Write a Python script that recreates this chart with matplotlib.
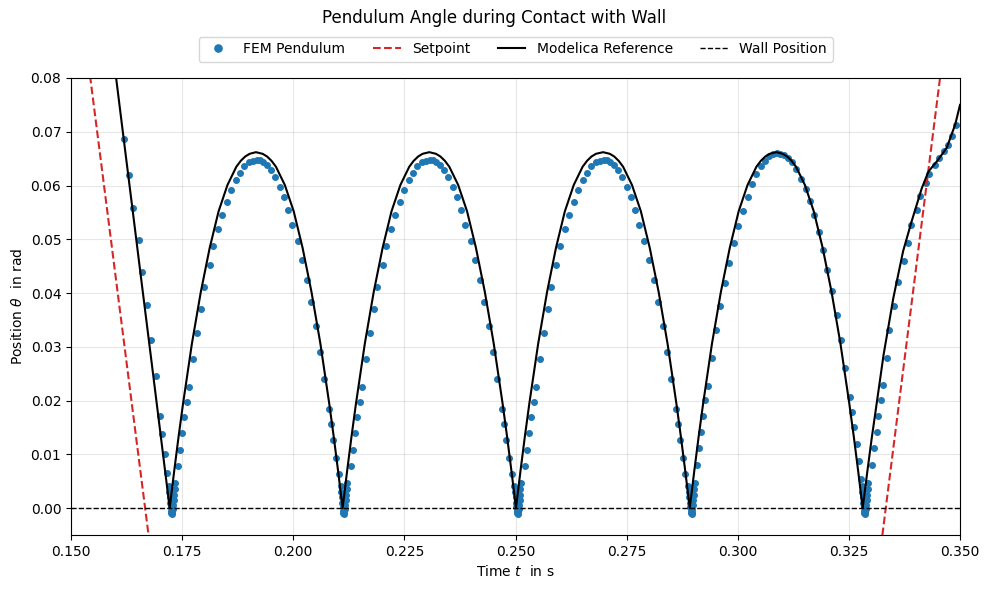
"""
Pendulum angle during contact with the wall: FEM samples vs Modelica reference.
"""

import matplotlib.pyplot as plt
import numpy as np

OUTPUT_FILE = "out.png"

# -- Modelica reference trajectory ---------------------------------------------
REF_T = [
    0.1560, 0.1580, 0.1600, 0.1620, 0.1640, 0.1660, 0.1680, 0.1700, 0.1722,
    0.1732, 0.1742, 0.1752, 0.1772, 0.1792, 0.1812, 0.1832, 0.1852, 0.1872, 0.1882, 0.1892,
    0.1902, 0.1916, 0.1931, 0.1941, 0.1951, 0.1961, 0.1981, 0.2001, 0.2021, 0.2041, 0.2061,
    0.2081, 0.2091, 0.2101, 0.2111,
    0.2121, 0.2131, 0.2141, 0.2161, 0.2181, 0.2201, 0.2221, 0.2241, 0.2261, 0.2271, 0.2281,
    0.2291, 0.2306, 0.2321, 0.2331, 0.2341, 0.2351, 0.2371, 0.2391, 0.2411, 0.2431, 0.2451,
    0.2471, 0.2481, 0.2491, 0.2501,
    0.2511, 0.2521, 0.2531, 0.2551, 0.2571, 0.2591, 0.2611, 0.2631, 0.2651, 0.2661, 0.2671,
    0.2681, 0.2697, 0.2712, 0.2722, 0.2732, 0.2742, 0.2762, 0.2782, 0.2802, 0.2822, 0.2842,
    0.2862, 0.2872, 0.2882, 0.2892,
    0.2902, 0.2912, 0.2922, 0.2942, 0.2962, 0.2982, 0.3002, 0.3022, 0.3042, 0.3052, 0.3062,
    0.3072, 0.3087, 0.3101, 0.3111, 0.3121, 0.3131, 0.3151, 0.3171, 0.3191, 0.3211, 0.3231,
    0.3251, 0.3261, 0.3271, 0.3281,
    0.3291, 0.3301, 0.3311, 0.3328, 0.3350, 0.3372, 0.3391, 0.3414, 0.3429, 0.3448, 0.3470,
    0.3489, 0.3500,
]
REF_THETA = [
    0.1080, 0.0945, 0.0810, 0.0677, 0.0545, 0.0412, 0.0280, 0.0147, 0.0000,
    0.0068, 0.0133, 0.0194, 0.0306, 0.0402, 0.0484, 0.0552, 0.0601, 0.0635, 0.0646, 0.0654,
    0.0659, 0.0662, 0.0659, 0.0654, 0.0646, 0.0635, 0.0601, 0.0552, 0.0484, 0.0402, 0.0306,
    0.0194, 0.0133, 0.0068, 0.0000,
    0.0068, 0.0133, 0.0194, 0.0306, 0.0402, 0.0484, 0.0552, 0.0601, 0.0635, 0.0646, 0.0654,
    0.0659, 0.0662, 0.0659, 0.0654, 0.0646, 0.0635, 0.0601, 0.0552, 0.0484, 0.0402, 0.0306,
    0.0194, 0.0133, 0.0068, 0.0000,
    0.0068, 0.0133, 0.0194, 0.0306, 0.0402, 0.0484, 0.0552, 0.0601, 0.0635, 0.0646, 0.0654,
    0.0659, 0.0662, 0.0659, 0.0654, 0.0646, 0.0635, 0.0601, 0.0552, 0.0484, 0.0402, 0.0306,
    0.0194, 0.0133, 0.0068, 0.0000,
    0.0068, 0.0133, 0.0194, 0.0306, 0.0402, 0.0484, 0.0552, 0.0601, 0.0635, 0.0646, 0.0654,
    0.0659, 0.0662, 0.0659, 0.0654, 0.0646, 0.0635, 0.0601, 0.0552, 0.0484, 0.0402, 0.0306,
    0.0194, 0.0133, 0.0068, 0.0000,
    0.0065, 0.0128, 0.0186, 0.0285, 0.0391, 0.0478, 0.0533, 0.0595, 0.0626, 0.0645, 0.0670,
    0.0713, 0.0750,
]

# -- Setpoint ramp (down to below the wall and back up) ------------------------
SET_T = [0.1500, 0.1700, 0.3300, 0.3500]
SET_THETA = [0.1082, -0.0216, -0.0216, 0.1095]

WALL_POSITION = 0.0

# -- FEM samples ------------------------------------------------------------------
# approach before the first impact
FEM_T_APPROACH = [0.1619, 0.1631, 0.1640, 0.1652, 0.1660, 0.1672,
                  0.1681, 0.1692, 0.1701, 0.1705, 0.1711, 0.1717]
FEM_TH_APPROACH = [0.0686, 0.0620, 0.0558, 0.0498, 0.0439, 0.0377,
                   0.0312, 0.0246, 0.0172, 0.0137, 0.0100, 0.0065]

# dense samples while in contact with the wall (same shape at each impact)
CONTACT_THETA = [0.0042, 0.0030, 0.0020, 0.0010, 0.0002, -0.0005, -0.0010, -0.0011,
                 -0.0008, -0.0002, 0.0006, 0.0015, 0.0025, 0.0036, 0.0047]
CONTACT_T1 = [0.17195, 0.1721, 0.1722, 0.1723, 0.1724, 0.1725, 0.1726, 0.1727,
              0.1728, 0.1729, 0.1730, 0.1731, 0.1732, 0.1733, 0.1734]
CONTACT_T2 = [0.21065, 0.2108, 0.2109, 0.2110, 0.2111, 0.2112, 0.2113, 0.2114,
              0.2115, 0.2116, 0.2117, 0.2118, 0.2119, 0.2120, 0.2121]
CONTACT_T3 = [0.24975, 0.2499, 0.2500, 0.2501, 0.2502, 0.2503, 0.2504, 0.2505,
              0.2506, 0.2507, 0.2508, 0.2509, 0.2510, 0.2511, 0.2512]
CONTACT_T4 = [0.28885, 0.2890, 0.2891, 0.2892, 0.2893, 0.2894, 0.2895, 0.2896,
              0.2897, 0.2898, 0.2899, 0.2900, 0.2901, 0.2902, 0.2903]
CONTACT_T5 = [0.32785, 0.3280, 0.3281, 0.3282, 0.3283, 0.3284, 0.3285, 0.3286,
              0.3287, 0.3288, 0.3289, 0.3290, 0.3291, 0.3292, 0.3293]

# free flight arches 1-3 (FEM peak stays below the reference)
ARCH_THETA = [0.0078, 0.0109, 0.0139, 0.0169, 0.0197, 0.0225, 0.0277, 0.0325, 0.0370,
              0.0412, 0.0452, 0.0487, 0.0519, 0.0546, 0.0570, 0.0592, 0.0610, 0.0624,
              0.0636, 0.0643, 0.0646, 0.0647, 0.0647, 0.0644, 0.0638, 0.0628, 0.0615,
              0.0597, 0.0578, 0.0554, 0.0526, 0.0496, 0.0461, 0.0424, 0.0383, 0.0339,
              0.0290, 0.0240, 0.0184, 0.0156, 0.0126, 0.0094, 0.0063]
ARCH_T1 = [0.1741, 0.1746, 0.1750, 0.1755, 0.1762, 0.1766, 0.1774, 0.1783, 0.1792,
           0.1800, 0.1812, 0.1820, 0.1831, 0.1840, 0.1852, 0.1861, 0.1872, 0.1881,
           0.1890, 0.1901, 0.1910, 0.1918, 0.1925, 0.1933, 0.1942, 0.1951, 0.1960,
           0.1970, 0.1979, 0.1989, 0.1998, 0.2010, 0.2020, 0.2031, 0.2041, 0.2051,
           0.2061, 0.2069, 0.2080, 0.2086, 0.2090, 0.2096, 0.2102]
ARCH_T2 = [0.2130, 0.2135, 0.2139, 0.2144, 0.2151, 0.2155, 0.2163, 0.2172, 0.2181,
           0.2189, 0.2201, 0.2209, 0.2220, 0.2229, 0.2241, 0.2250, 0.2261, 0.2270,
           0.2279, 0.2290, 0.2299, 0.2307, 0.2314, 0.2322, 0.2331, 0.2340, 0.2349,
           0.2359, 0.2368, 0.2378, 0.2387, 0.2399, 0.2409, 0.2420, 0.2430, 0.2440,
           0.2450, 0.2458, 0.2469, 0.2475, 0.2479, 0.2485, 0.2491]
ARCH_T3 = [0.2521, 0.2526, 0.2530, 0.2535, 0.2542, 0.2546, 0.2554, 0.2563, 0.2572,
           0.2580, 0.2592, 0.2600, 0.2611, 0.2620, 0.2632, 0.2641, 0.2652, 0.2661,
           0.2670, 0.2681, 0.2690, 0.2698, 0.2705, 0.2713, 0.2722, 0.2731, 0.2740,
           0.2750, 0.2759, 0.2769, 0.2778, 0.2790, 0.2800, 0.2811, 0.2821, 0.2831,
           0.2841, 0.2849, 0.2860, 0.2866, 0.2870, 0.2876, 0.2882]

# arch 4 (FEM peak reaches the reference)
ARCH_T4 = [0.2909, 0.2913, 0.2917, 0.2921, 0.2927, 0.2932, 0.2941, 0.2951, 0.2960,
           0.2972, 0.2981, 0.2992, 0.3001, 0.3011, 0.3022, 0.3031, 0.3042, 0.3052,
           0.3062, 0.3071, 0.3080, 0.3088, 0.3095, 0.3103, 0.3112, 0.3121, 0.3130,
           0.3142, 0.3153, 0.3162, 0.3172, 0.3182, 0.3191, 0.3201, 0.3211, 0.3223,
           0.3232, 0.3242, 0.3252, 0.3257, 0.3262, 0.3268, 0.3273, 0.3277]
ARCH_TH4 = [0.0080, 0.0111, 0.0141, 0.0171, 0.0201, 0.0227, 0.0280, 0.0331, 0.0375,
            0.0418, 0.0456, 0.0494, 0.0525, 0.0553, 0.0579, 0.0602, 0.0621, 0.0636,
            0.0646, 0.0654, 0.0659, 0.0660, 0.0659, 0.0656, 0.0651, 0.0644, 0.0630,
            0.0613, 0.0593, 0.0571, 0.0545, 0.0514, 0.0480, 0.0443, 0.0403, 0.0359,
            0.0313, 0.0260, 0.0207, 0.0179, 0.0150, 0.0119, 0.0087, 0.0055]

# leaving the wall once the setpoint ramps back up
FEM_T_RELEASE = [0.3301, 0.3307, 0.3313, 0.3316, 0.3322, 0.3326, 0.3335, 0.3341,
                 0.3352, 0.3361, 0.3373, 0.3382, 0.3390, 0.3403, 0.3410, 0.3424,
                 0.3431, 0.3443, 0.3452, 0.3463, 0.3472, 0.3481, 0.3492]
FEM_TH_RELEASE = [0.0081, 0.0112, 0.0141, 0.0171, 0.0201, 0.0229, 0.0280, 0.0331,
                  0.0376, 0.0420, 0.0459, 0.0494, 0.0526, 0.0555, 0.0581, 0.0605,
                  0.0622, 0.0639, 0.0652, 0.0664, 0.0676, 0.0693, 0.0712]


def fem_samples():
    """Stitch the FEM segments together in time order."""
    t_parts = [FEM_T_APPROACH, CONTACT_T1, ARCH_T1, CONTACT_T2, ARCH_T2,
               CONTACT_T3, ARCH_T3, CONTACT_T4, ARCH_T4, CONTACT_T5, FEM_T_RELEASE]
    th_parts = [FEM_TH_APPROACH, CONTACT_THETA, ARCH_THETA, CONTACT_THETA, ARCH_THETA,
                CONTACT_THETA, ARCH_THETA, CONTACT_THETA, ARCH_TH4, CONTACT_THETA,
                FEM_TH_RELEASE]
    return np.concatenate(t_parts), np.concatenate(th_parts)


def main():
    fem_t, fem_theta = fem_samples()

    fig, ax = plt.subplots(figsize=(9.89, 5.89), dpi=100)
    fig.subplots_adjust(left=0.0718, right=0.9707, top=0.8676, bottom=0.0917)

    ax.plot(fem_t, fem_theta, "o", color="tab:blue", markersize=4,
            label="FEM Pendulum")
    ax.plot(SET_T, SET_THETA, "--", color="tab:red", linewidth=1.5,
            label="Setpoint")
    ax.plot(REF_T, REF_THETA, "-", color="black", linewidth=1.5,
            label="Modelica Reference")
    ax.axhline(WALL_POSITION, color="black", linestyle="--", linewidth=1.0,
               label="Wall Position")

    ax.set_xlim(0.15, 0.35)
    ax.set_ylim(-0.005, 0.08)
    ax.set_xticks(np.arange(0.150, 0.3501, 0.025))
    ax.set_xlabel(r"Time $t$  in s")
    ax.set_ylabel(r"Position $\theta$  in rad")
    ax.grid(True, alpha=0.3)

    ax.legend(loc="lower center", bbox_to_anchor=(0.5, 1.02), ncol=4,
              markerscale=1.3)
    fig.suptitle("Pendulum Angle during Contact with Wall", fontsize=12,
                 y=0.969, va="center")

    fig.savefig(OUTPUT_FILE, dpi=100, facecolor="white")
    plt.close(fig)


if __name__ == "__main__":
    main()
